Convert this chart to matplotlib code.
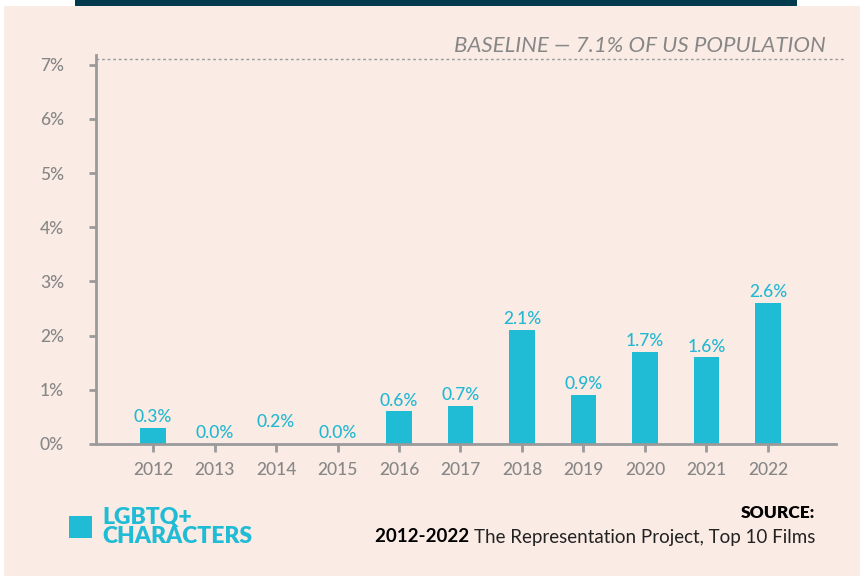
import numpy as np
import matplotlib.pyplot as plt
from matplotlib.patches import Rectangle

# data
years = ["2012", "2013", "2014", "2015", "2016", "2017", "2018", "2019", "2020", "2021", "2022"]
lgbtq_pct = [0.3, 0.0, 0.2, 0.0, 0.6, 0.7, 2.1, 0.9, 1.7, 1.6, 2.6]
y_ticks = [0, 1, 2, 3, 4, 5, 6, 7]
baseline = 7.1

W, H = 864, 579
panel_col = "#faebe4"
bar_col = "#20bcd6"
grey = "#878787"
axis_col = "#9a9a9a"
plt.rcParams['font.family'] = ['Lato', 'DejaVu Sans']

fig = plt.figure(figsize=(W / 100, H / 100), dpi=100)
fig.patch.set_facecolor("white")

# background panel and the dark strip on top
fig.patches.append(Rectangle((4 / W, 3 / H), 856 / W, 570 / H, transform=fig.transFigure,
                             facecolor=panel_col, edgecolor="none", zorder=-2))
fig.patches.append(Rectangle((75 / W, 573 / H), 722 / W, 6 / H, transform=fig.transFigure,
                             facecolor="#003a4d", edgecolor="none", zorder=-1))

# axes box in pixels: x 96..836, y 55..444
ax = fig.add_axes([96 / W, (H - 444) / H, 740 / W, 389 / H])
ax.set_zorder(2)
ax.set_facecolor("none")
x = np.arange(len(years))
# the 2014 bar is not visible in the original
colors = [bar_col] * len(years)
colors[2] = panel_col
ax.bar(x, lgbtq_pct, width=0.42, color=colors, zorder=2)
for xi, v in zip(x, lgbtq_pct):
    ax.annotate(f"{v:.1f}%", (xi, v), xytext=(0, 2), textcoords="offset points",
                ha="center", va="bottom", color="#22b8d2", fontsize=12.5, fontweight="medium")

ax.set_xlim(-0.927, 11.106)
ax.set_ylim(0, 7.18)
ax.set_xticks(x)
ax.set_xticklabels(years)
ax.set_yticks(y_ticks)
ax.set_yticklabels([f"{t}%" for t in y_ticks])
ax.tick_params(axis="x", length=6, width=2, color=axis_col, labelcolor=grey,
               labelsize=12.5, pad=7)
ax.tick_params(axis="y", length=5, width=2, color=axis_col, labelcolor=grey,
               labelsize=12.5, pad=18)
for lab in ax.get_xticklabels() + ax.get_yticklabels():
    lab.set_fontweight("medium")
for s in ["top", "right"]:
    ax.spines[s].set_visible(False)
for s in ["left", "bottom"]:
    ax.spines[s].set_color(axis_col)
    ax.spines[s].set_linewidth(2)
    ax.spines[s].set_zorder(3)

# baseline line
ax.plot([-0.927, 11.25], [baseline, baseline], linestyle=(0, (2, 2)), color=axis_col,
        linewidth=1, clip_on=False)
fig.text(826 / W, 1 - 46 / H, "BASELINE \u2014 7.1% OF US POPULATION", ha="right", va="center",
         color=grey, fontsize=16, style="italic")

# legend
fig.patches.append(Rectangle((69 / W, 1 - 538 / H), 23 / W, 22 / H, transform=fig.transFigure,
                             facecolor=bar_col, edgecolor="none"))
fig.text(102 / W, 1 - 527 / H, "LGBTQ+\nCHARACTERS", ha="left", va="center", color=bar_col,
         fontsize=16.5, fontweight="heavy", linespacing=0.85)

# source
fig.text(815 / W, 1 - 513 / H, "SOURCE:", ha="right", va="center", color="black",
         fontsize=12.5, fontweight="heavy")
src = fig.text(815 / W, 1 - 537 / H, "The Representation Project, Top 10 Films", ha="right",
               va="center", color="#222222", fontsize=13.5)
ax.annotate("2012-2022 ", xy=(0, 0.5), xycoords=src, ha="right", va="center",
            color="black", fontsize=13.5, fontweight="bold", annotation_clip=False)

fig.savefig("out.png", dpi=100)
